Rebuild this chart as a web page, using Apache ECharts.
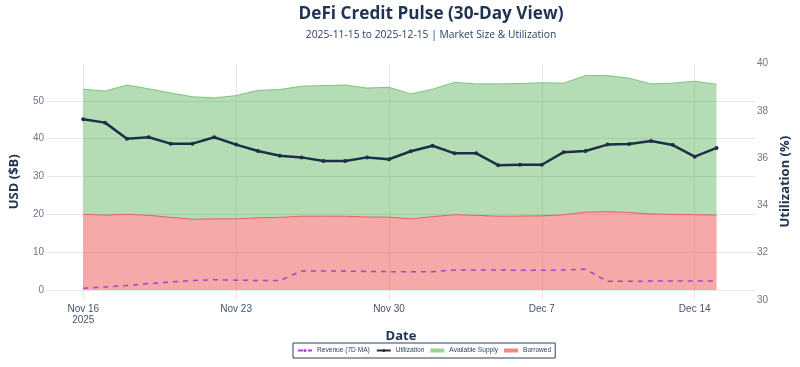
<!DOCTYPE html>
<html><head><meta charset="utf-8">
<script src="https://cdn.jsdelivr.net/npm/echarts@6/dist/echarts.min.js"></script>
<style>html,body{margin:0;padding:0;background:#fff}#c{width:800px;height:367px}</style>
</head><body><div id="c"></div>
<script>
const dates = ['2025-11-16','2025-11-17','2025-11-18','2025-11-19','2025-11-20','2025-11-21','2025-11-22','2025-11-23','2025-11-24','2025-11-25',
  '2025-11-26','2025-11-27','2025-11-28','2025-11-29','2025-11-30','2025-12-01','2025-12-02','2025-12-03','2025-12-04','2025-12-05',
  '2025-12-06','2025-12-07','2025-12-08','2025-12-09','2025-12-10','2025-12-11','2025-12-12','2025-12-13','2025-12-14','2025-12-15'];
const borrowed = [20.0,19.8,20.0,19.75,19.2,18.7,18.8,18.8,19.1,19.2,19.5,19.5,19.5,19.3,19.25,
  18.8,19.4,19.9,19.75,19.5,19.55,19.6,19.9,20.6,20.7,20.5,20.1,20.0,19.9,19.8];
const availableSupply = [33.1,32.8,34.2,33.45,32.9,32.4,32.0,32.6,33.7,33.8,34.4,34.55,34.7,34.1,34.35,
  33.05,33.7,35.0,34.75,35.0,35.05,35.2,34.8,36.1,36.0,35.5,34.4,34.7,35.3,34.6];
const utilization = [37.64,37.50,36.82,36.88,36.61,36.61,36.88,36.57,36.30,36.10,36.03,35.88,35.88,36.03,35.95,
  36.29,36.52,36.20,36.20,35.70,35.72,35.72,36.25,36.30,36.57,36.60,36.72,36.55,36.06,36.43];
const revenue7dMA = [0.45,0.8,1.2,1.7,2.1,2.5,2.7,2.6,2.5,2.5,5.0,5.0,5.0,4.9,4.85,
  4.85,4.85,5.3,5.3,5.3,5.2,5.2,5.3,5.5,2.3,2.3,2.35,2.4,2.4,2.4];
const xTickDates = ['2025-11-16','2025-11-23','2025-11-30','2025-12-07','2025-12-14'];
const xTickLabels = ['Nov 16\n2025','Nov 23','Nov 30','Dec 7','Dec 14'];
const leftTicks = [0,10,20,30,40,50];

// x position = day offset from the first date (value axis, one unit per day)
const DAY = 86400000;
const t0 = Date.parse(dates[0] + 'T00:00:00Z');
const dayIdx = d => Math.round((Date.parse(d + 'T00:00:00Z') - t0) / DAY);
// rows are [value, day] so that the stacked dimension is the value column
const rows = arr => dates.map((d, i) => [arr[i], dayIdx(d)]);
const xTickVals = xTickDates.map(dayIdx);
const ENC = {x: 1, y: 0};

const chart = echarts.init(document.getElementById('c'), null, {renderer: 'canvas'});
const FONT = 'Open Sans, Liberation Sans, sans-serif';
const TICKFONT = 'Liberation Sans, Arial, sans-serif';
const option = {
  backgroundColor: '#ffffff',
  animation: false,
  textStyle: {fontFamily: FONT},
  title: {
    text: 'DeFi Credit Pulse (30-Day View)',
    subtext: '2025-11-15 to 2025-12-15 | Market Size & Utilization',
    left: 426, textAlign: 'center', top: 1, itemGap: 7,
    textStyle: {fontSize: 17.2, fontWeight: 'bold', color: '#1f3350', fontFamily: FONT},
    subtextStyle: {fontSize: 10.3, color: '#2a3f5f', fontFamily: FONT}
  },
  legend: {
    top: 343, left: 293,
    data: [
      {name: 'Revenue (7D MA)'},
      {name: 'Utilization'},
      {name: 'Available Supply', icon: 'rect'},
      {name: 'Borrowed', icon: 'rect'}
    ],
    borderColor: '#2a3f5f', borderWidth: 1, padding: [4, 4],
    itemGap: 6, itemWidth: 14, itemHeight: 4,
    textStyle: {fontSize: 6.6, color: '#2a3f5f', fontFamily: TICKFONT}
  },
  grid: {left: 40, right: 38, top: 63.5, bottom: 67, containLabel: false},
  xAxis: {
    type: 'value', min: -1.66, max: 30.76,
    name: 'Date', nameLocation: 'middle', nameGap: 11,
    nameTextStyle: {fontSize: 13, fontWeight: 'bold', color: '#1f3350', fontFamily: FONT},
    axisLine: {show: false},
    axisTick: {show: false, customValues: xTickVals},
    axisLabel: {
      customValues: xTickVals, margin: 4, fontSize: 10, color: '#44546a', lineHeight: 10.5,
      fontFamily: TICKFONT,
      formatter: v => xTickLabels[xTickVals.indexOf(Math.round(v))] || ''
    },
    splitLine: {show: true, lineStyle: {color: '#e6e6e6', width: 1}}
  },
  yAxis: [{
    type: 'value', min: -2.65, max: 59.9, position: 'left',
    name: 'USD ($B)', nameLocation: 'middle', nameGap: 26, nameRotate: 90,
    nameTextStyle: {fontSize: 13, fontWeight: 'bold', color: '#1f3350', fontFamily: FONT},
    axisLine: {show: false},
    axisTick: {show: false, customValues: leftTicks},
    axisLabel: {customValues: leftTicks, margin: 3, fontSize: 10, color: '#6b7789', fontFamily: TICKFONT},
    splitLine: {show: true, lineStyle: {color: ['#e1e7f2', '#e6e6e6', '#e6e6e6', '#e6e6e6', '#e6e6e6', '#e6e6e6'], width: 1}}
  }, {
    type: 'value', min: 30, max: 40, interval: 2, position: 'right',
    name: 'Utilization (%)', nameLocation: 'middle', nameGap: 23, nameRotate: 90,
    nameTextStyle: {fontSize: 13, fontWeight: 'bold', color: '#1f3350', fontFamily: FONT},
    axisLine: {show: false}, axisTick: {show: false},
    axisLabel: {margin: 2, fontSize: 10, color: '#6b7789', fontFamily: TICKFONT},
    splitLine: {show: false}
  }],
  series: [{
    name: 'Borrowed', type: 'line', stack: 'mkt', yAxisIndex: 0, z: 1,
    encode: ENC, data: rows(borrowed), showSymbol: false, symbol: 'none',
    itemStyle: {color: '#f08a8a'},
    lineStyle: {color: '#e8605c', width: 1},
    areaStyle: {color: 'rgba(236,64,64,0.45)', opacity: 1, origin: 0}
  }, {
    name: 'Available Supply', type: 'line', stack: 'mkt', yAxisIndex: 0, z: 1,
    encode: ENC, data: rows(availableSupply), showSymbol: false, symbol: 'none',
    itemStyle: {color: '#97d597'},
    lineStyle: {color: '#7cc47c', width: 1},
    areaStyle: {color: 'rgba(76,175,80,0.42)', opacity: 1}
  }, {
    name: 'Revenue (7D MA)', type: 'line', yAxisIndex: 0, z: 3,
    encode: ENC, data: rows(revenue7dMA), showSymbol: false, symbol: 'none',
    itemStyle: {color: '#b13ec8'},
    lineStyle: {color: '#b13ec8', width: 1.5, type: [5, 5]}
  }, {
    name: 'Utilization', type: 'line', yAxisIndex: 1, z: 4,
    encode: ENC, data: rows(utilization), symbol: 'circle', symbolSize: 4, showSymbol: true,
    itemStyle: {color: '#1f2f48'},
    lineStyle: {color: '#1f2f48', width: 2.5}
  }]
};
chart.setOption(option);
</script>
</body></html>
